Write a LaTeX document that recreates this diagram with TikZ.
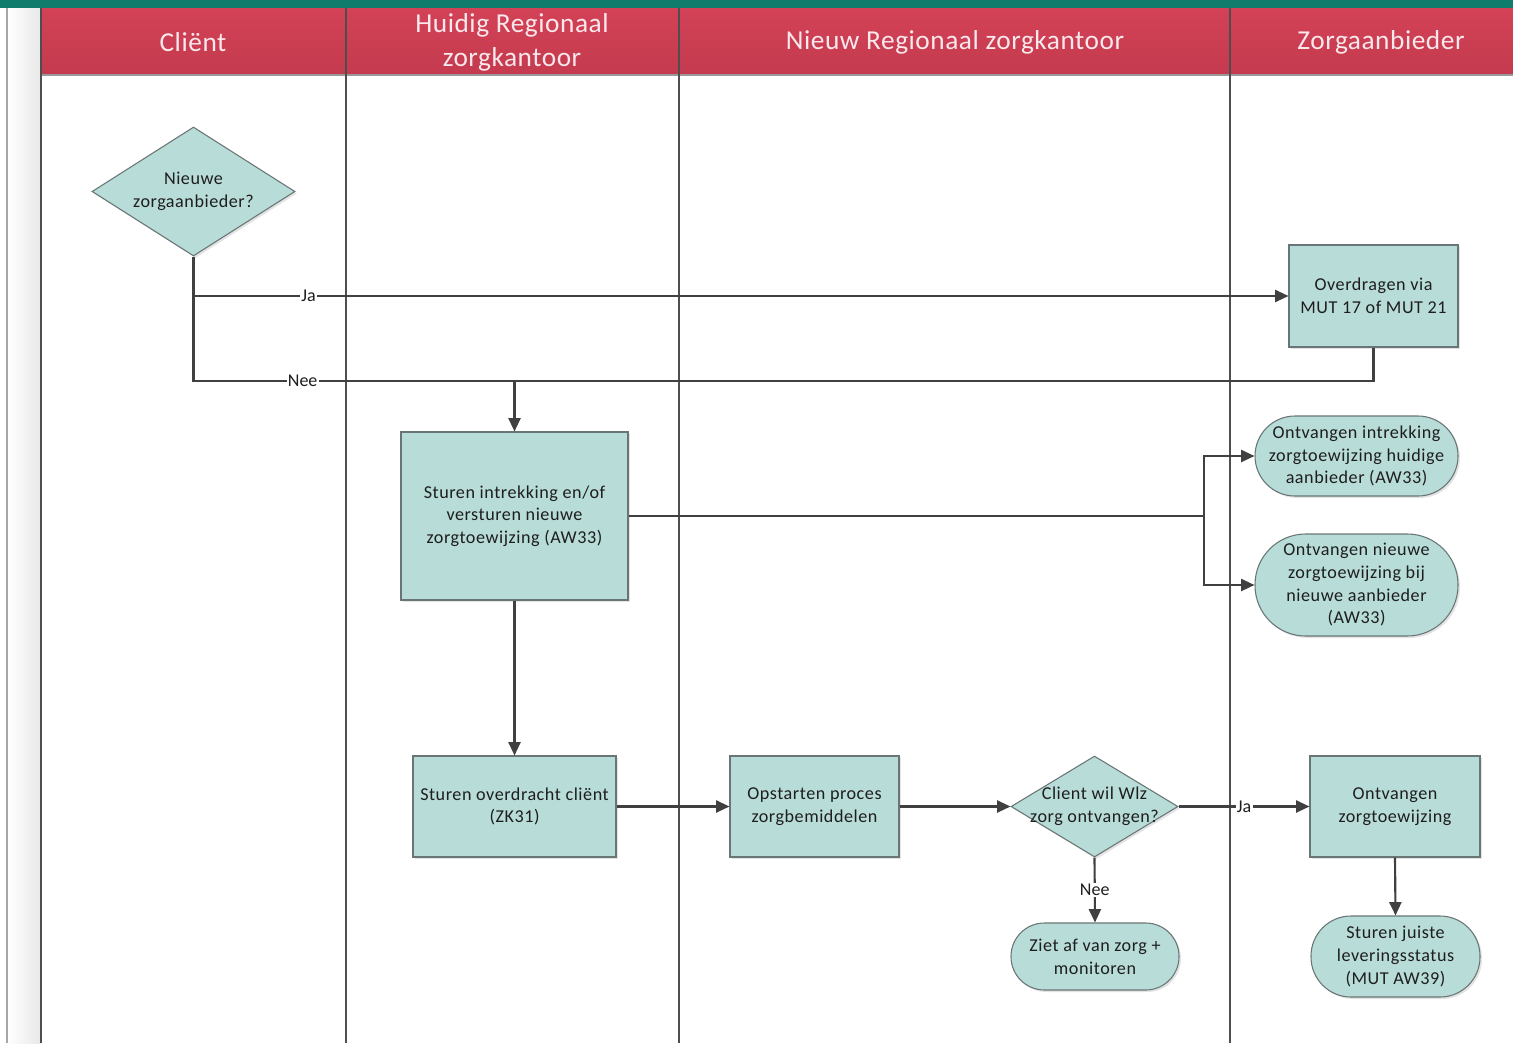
\documentclass[tikz,border=0pt]{standalone}
\usepackage{fontspec}
\setmainfont{Carlito}
\usetikzlibrary{arrows.meta,shapes.geometric,shadows}

\definecolor{topband}{RGB}{16,124,108}
\definecolor{headtop}{RGB}{211,66,87}
\definecolor{headbot}{RGB}{196,58,78}
\definecolor{headtxt}{RGB}{250,232,236}
\definecolor{boxfill}{RGB}{184,220,216}
\definecolor{boxline}{RGB}{105,118,117}
\definecolor{flowline}{RGB}{64,64,64}
\definecolor{laneline}{RGB}{78,78,78}
\definecolor{txt}{RGB}{30,30,30}

\newcommand\nodefont{\addfontfeatures{LetterSpace=3}\fontsize{13.6}{17}\selectfont}
\newcommand\hdfont{\addfontfeatures{LetterSpace=2}\fontsize{20.5}{25.5}\selectfont}
\newcommand\tagfont{\fontsize{13.5}{14}\selectfont}

\begin{document}
\begin{tikzpicture}[x=0.75pt,y=-0.75pt,
  base/.style={draw=boxline, line width=0.8pt, fill=boxfill, text=txt,
    font=\nodefont, align=center, inner sep=0pt,
    drop shadow={shadow xshift=1.5pt, shadow yshift=-1.5pt, opacity=0.22}},
  task/.style={base, rectangle},
  term/.style={base, rectangle, rounded corners=#1},
  dec/.style={base, diamond},
  dectext/.style={font=\nodefont, align=center, text=txt, inner sep=0pt},
  lanehead/.style={font=\hdfont, text=headtxt, align=center},
  flow/.style={draw=flowline, line width=1.6pt},
  flowarrow/.style={flow, -{Triangle[length=10pt,width=9pt]}},
  lbl/.style={fill=white, inner sep=1pt, font=\tagfont, text=txt}]

\useasboundingbox (0,0) rectangle (1513,1043);
\fill[white] (0,0) rectangle (1513,1043);

% frame: top band, left margin strip, lane header
\fill[topband] (0,0) rectangle (1513,8);
\shade[left color=white, right color=black!9] (7,8) rectangle (41,1043);
\draw[gray!70, line width=0.8pt] (7,8) -- (7,1043);
\shade[top color=headtop, bottom color=headbot] (41,8) rectangle (1513,75);
\draw[gray!80, line width=0.8pt] (41,75) -- (1513,75);

% lane separators
\foreach \x in {41,346,679,1230}
  \draw[laneline, line width=1pt] (\x,8) -- (\x,1043);

% lane titles
\node[lanehead] (h1) at (193,42) {Cliënt};
\node[lanehead] (h2) at (512,42) {Huidig Regionaal\\zorgkantoor};
\node[lanehead] (h3) at (955,42) {Nieuw Regionaal zorgkantoor};
\node[lanehead] (h4) at (1381,42) {Zorgaanbieder};

% process steps
\node[dec, minimum width=152.25pt, minimum height=96.75pt,
  label={[dectext]center:{Nieuwe\\zorgaanbieder?}}] (d1) at (193.5,191.5) {};
\node[task, minimum width=126.75pt, minimum height=76.5pt] (ov) at (1373.5,296)
  {Overdragen via\\MUT 17 of MUT 21};
\node[task, minimum width=170.25pt, minimum height=126pt] (si) at (514.5,516)
  {Sturen intrekking en/of\\versturen nieuwe\\zorgtoewijzing (AW33)};
\node[term=30pt, minimum width=152.25pt, minimum height=60pt] (t1) at (1356.5,456)
  {Ontvangen intrekking\\zorgtoewijzing huidige\\aanbieder (AW33)};
\node[term=38pt, minimum width=152.25pt, minimum height=76.5pt] (t2) at (1356.5,585)
  {Ontvangen nieuwe\\zorgtoewijzing bij\\nieuwe aanbieder\\(AW33)};
\node[task, minimum width=152.25pt, minimum height=75.75pt] (so) at (514.5,806.5)
  {Sturen overdracht cliënt\\(ZK31)};
\node[task, minimum width=126.75pt, minimum height=75.75pt] (op) at (814.5,806.5)
  {Opstarten proces\\zorgbemiddelen};
\node[dec, minimum width=125.25pt, minimum height=75.75pt,
  label={[dectext]center:{Client wil Wlz\\zorg ontvangen?}}] (d2) at (1094.5,806.5) {};
\node[task, minimum width=127.5pt, minimum height=75.75pt] (oz) at (1395,806.5)
  {Ontvangen\\zorgtoewijzing};
\node[term=25pt, minimum width=126pt, minimum height=50.25pt] (t3) at (1095,956.5)
  {Ziet af van zorg +\\monitoren};
\node[term=30pt, minimum width=126.75pt, minimum height=60.75pt] (t4) at (1395.5,956.5)
  {Sturen juiste\\leveringsstatus\\(MUT AW39)};

% junction points
\coordinate (jn) at (514.5,381);
\coordinate (br) at (1204,516);

% connectors
\draw[flowarrow] (d1.south) -- (d1.south |- ov.west)
  -- node[lbl, pos=0.105] {Ja} (ov.west);
\draw[flowarrow] (d1.south) -- (d1.south |- jn)
  -- node[lbl, pos=0.34] {Nee} (jn) -- (si.north);
\draw[flow] (ov.south) -- (ov.south |- jn) -- (jn);
\draw[flow] (si.east) -- (br);
\draw[flowarrow] (br) |- (t1.west);
\draw[flowarrow] (br) |- (t2.west);
\draw[flowarrow] (si.south) -- (so.north);
\draw[flowarrow] (so.east) -- (op.west);
\draw[flowarrow] (op.east) -- (d2.west);
\draw[flowarrow] (d2.east) -- node[lbl, pos=0.5] {Ja} (oz.west);
\draw[flowarrow] (d2.south) -- node[lbl, pos=0.5] {Nee} (t3.north);
\draw[flowarrow] (oz.south) -- (t4.north);

\end{tikzpicture}
\end{document}
